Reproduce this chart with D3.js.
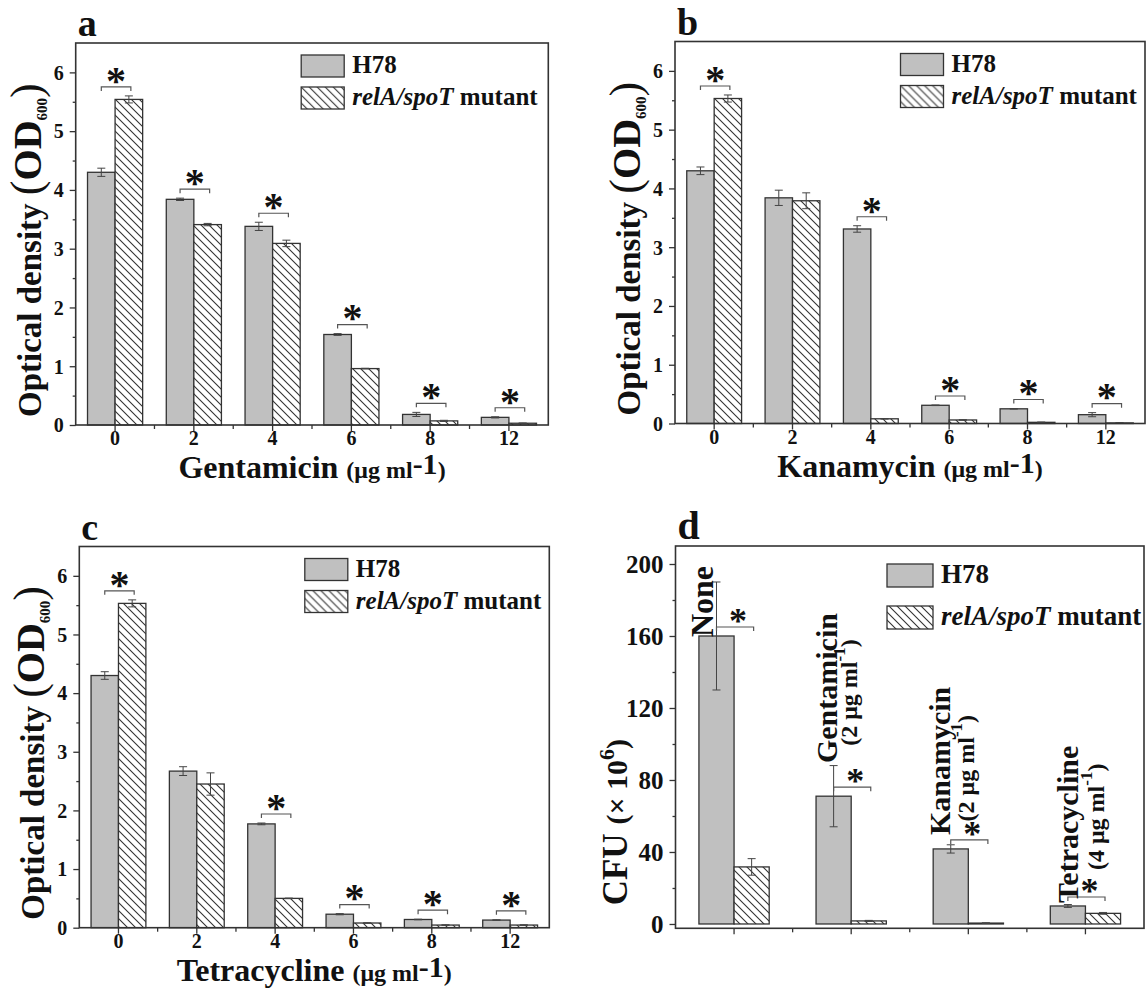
<!DOCTYPE html>
<html>
<head>
<meta charset="utf-8">
<script src="https://cdn.jsdelivr.net/npm/d3@7"></script>
<style>
  body { margin: 0; background: #fff; }
  svg text { font-family: "Liberation Serif", "Times New Roman", serif; font-weight: bold; fill: #111; }
</style>
</head>
<body>
<svg id="fig" width="1148" height="992"></svg>
<script>
// antibiotic concentrations (ug/ml) on the x axis of panels a-c
var concLabels = ["0", "2", "4", "6", "8", "12"];
var seriesNames = ["H78", "relA/spoT mutant"];

// a - gentamicin, OD600
var gentH78 = [4.30, 3.84, 3.38, 1.54, 0.18, 0.13];
var gentH78Err = [0.07, 0.02, 0.07, 0.015, 0.035, 0.01];
var gentMut = [5.54, 3.41, 3.09, 0.96, 0.07, 0.03];
var gentMutErr = [0.06, 0.02, 0.055, 0.005, 0.01, 0.005];
var gentSig = [1, 1, 1, 1, 1, 1];

// b - kanamycin, OD600
var kanH78 = [4.30, 3.84, 3.31, 0.31, 0.25, 0.15];
var kanH78Err = [0.065, 0.13, 0.055, 0.005, 0.005, 0.035];
var kanMut = [5.53, 3.79, 0.08, 0.06, 0.02, 0.01];
var kanMutErr = [0.06, 0.135, 0.005, 0.005, 0.005, 0.003];
var kanSig = [1, 0, 1, 1, 1, 1];

// c - tetracycline, OD600
var tetH78 = [4.30, 2.67, 1.77, 0.23, 0.14, 0.13];
var tetH78Err = [0.065, 0.075, 0.015, 0.01, 0.005, 0.005];
var tetMut = [5.53, 2.45, 0.50, 0.08, 0.045, 0.045];
var tetMutErr = [0.06, 0.19, 0.005, 0.005, 0.005, 0.005];
var tetSig = [1, 0, 1, 1, 1, 1];

// d - CFU (x 10^6) after treatment
var treatments = ["None", "Gentamicin", "Kanamycin", "Tetracycline"];
var treatmentDose = [null, 2, 2, 4];
var cfuH78 = [160, 71, 41.7, 10];
var cfuH78Err = [30, 17, 2.3, 0.8];
var cfuMut = [31.7, 1.7, 0.5, 5.9];
var cfuMutErr = [4.6, 0.3, 0.2, 0.5];
var cfuSig = [1, 1, 1, 1];

// axis ticks
var odTicks = [0, 1, 2, 3, 4, 5, 6];
var odMinor = [0.5, 1.5, 2.5, 3.5, 4.5, 5.5];
var cfuTicks = [0, 40, 80, 120, 160, 200];
var cfuMinor = [20, 60, 100, 140, 180];

var svg = d3.select("#fig");
svg.append("rect").attr("width", 1148).attr("height", 992).attr("fill", "#fff");

// diagonal hatch for the mutant bars
var pat = svg.append("defs").append("pattern")
  .attr("id", "hatch")
  .attr("patternUnits", "userSpaceOnUse")
  .attr("width", 8).attr("height", 8);
pat.append("rect").attr("width", 8).attr("height", 8).attr("fill", "#fff");
pat.append("path")
  .attr("d", "M-2,-2L10,10M-2,6L2,10M6,-2L10,2")
  .attr("stroke", "#333").attr("stroke-width", 1.1);

var GRAY = "#c0c0c0";
var LINE = "#333";

function drawPanel(p) {
  var g = svg.append("g");
  var x = d3.scaleBand().domain(p.cats).range([p.left, p.right]);
  var bw = x.bandwidth() * p.groupFrac / 2;
  var y = d3.scaleLinear().domain(p.yDomain).range([p.bottom, p.top]);

  var rows = p.cats.map(function (c, i) {
    return { cat: c, i: i, h: p.h78[i], he: p.h78Err[i], m: p.mut[i], me: p.mutErr[i], sig: p.sig[i] };
  });
  var cx = function (d) { return x(d.cat) + x.bandwidth() / 2; };

  // bars
  g.selectAll(".bar-h").data(rows).join("rect")
    .attr("class", "bar-h")
    .attr("x", function (d) { return cx(d) - bw; })
    .attr("width", bw)
    .attr("y", function (d) { return y(d.h); })
    .attr("height", function (d) { return y(0) - y(d.h); })
    .attr("fill", GRAY).attr("stroke", LINE).attr("stroke-width", 1.3);

  g.selectAll(".bar-m").data(rows).join("rect")
    .attr("class", "bar-m")
    .attr("x", function (d) { return cx(d); })
    .attr("width", bw)
    .attr("y", function (d) { return y(d.m); })
    .attr("height", function (d) { return y(0) - y(d.m); })
    .attr("fill", "url(#hatch)").attr("stroke", LINE).attr("stroke-width", 1.3);

  // error bars
  var errs = [];
  rows.forEach(function (d) {
    errs.push({ x: cx(d) - bw / 2, v: d.h, e: d.he });
    errs.push({ x: cx(d) + bw / 2, v: d.m, e: d.me });
  });
  var eg = g.selectAll(".err").data(errs).join("g").attr("class", "err")
    .attr("stroke", "#444").attr("stroke-width", 1);
  eg.append("line")
    .attr("x1", function (d) { return d.x; }).attr("x2", function (d) { return d.x; })
    .attr("y1", function (d) { return y(d.v - d.e); })
    .attr("y2", function (d) { return y(d.v + d.e); });
  [1, -1].forEach(function (s) {
    eg.append("line")
      .attr("x1", function (d) { return d.x - 4; }).attr("x2", function (d) { return d.x + 4; })
      .attr("y1", function (d) { return y(d.v + s * d.e); })
      .attr("y2", function (d) { return y(d.v + s * d.e); });
  });

  // significance brackets
  var sigRows = rows.filter(function (d) { return d.sig; });
  var bracketY = function (d) {
    var top = p.sigOnBar ? d.h : Math.max(d.h + d.he, d.m + d.me);
    return y(top) - 9;
  };
  g.selectAll(".sig").data(sigRows).join("path")
    .attr("class", "sig")
    .attr("d", function (d) {
      var x1 = cx(d) - bw / 2, x2 = cx(d) + bw / 2 + 2, yy = bracketY(d);
      return "M" + x1 + "," + (yy + 4) + "V" + yy + "H" + x2 + "V" + (yy + 4);
    })
    .attr("fill", "none").attr("stroke", "#555").attr("stroke-width", 1.2);
  g.selectAll(".star").data(sigRows).join("text")
    .attr("class", "star")
    .attr("x", function (d) { return cx(d) + 1 + (p.starShift || 0); })
    .attr("y", function (d) { return bracketY(d) + 0.27 * p.starFont - 4; })
    .attr("text-anchor", "middle")
    .style("font-size", p.starFont + "px")
    .text("*");

  // y axis
  var ya = g.append("g").attr("transform", "translate(" + p.left + ",0)").attr("color", LINE)
    .call(d3.axisLeft(y).tickValues(p.yTicks).tickSize(6).tickPadding(6).tickFormat(d3.format("d")));
  ya.select(".domain").remove();
  ya.selectAll("line").attr("stroke-width", 1.3);
  ya.selectAll("text").style("font-size", p.tickFont + "px").attr("dy", "0.34em");
  var ym = g.append("g").attr("transform", "translate(" + p.left + ",0)").attr("color", LINE)
    .call(d3.axisLeft(y).tickValues(p.yMinor).tickSize(3).tickFormat(""));
  ym.select(".domain").remove();
  ym.selectAll("line").attr("stroke-width", 1.3);

  // x axis: ticks under groups, short ticks between groups
  var xa = g.append("g").attr("transform", "translate(0," + p.bottom + ")").attr("color", LINE)
    .call(d3.axisBottom(x).tickSize(6).tickPadding(0).tickFormat(p.showXLabels ? null : ""));
  xa.select(".domain").remove();
  xa.selectAll("line").attr("stroke-width", 1.3);
  xa.selectAll("text").style("font-size", p.tickFont + "px");
  g.append("g").selectAll("line").data(p.cats.slice(1)).join("line")
    .attr("x1", function (c) { return x(c); }).attr("x2", function (c) { return x(c); })
    .attr("y1", p.bottom).attr("y2", p.bottom + 4)
    .attr("stroke", LINE).attr("stroke-width", 1.3);

  // frame
  g.append("rect")
    .attr("x", p.left).attr("y", p.top)
    .attr("width", p.right - p.left).attr("height", p.bottom - p.top)
    .attr("fill", "none").attr("stroke", LINE).attr("stroke-width", 1.6);

  // legend
  var L = p.legend;
  var lg = g.append("g").attr("transform", "translate(" + (p.left + L.dx) + "," + (p.top + L.dy) + ")");
  lg.append("rect").attr("width", L.w).attr("height", L.h)
    .attr("fill", GRAY).attr("stroke", LINE).attr("stroke-width", 1.3);
  lg.append("rect").attr("y", L.gap).attr("width", L.w).attr("height", L.h)
    .attr("fill", "url(#hatch)").attr("stroke", LINE).attr("stroke-width", 1.3);
  lg.append("text").attr("x", L.w + 8).attr("y", L.h - 4)
    .style("font-size", L.font + "px").text(seriesNames[0]);
  var lt = lg.append("text").attr("x", L.w + 8).attr("y", L.gap + L.h - 4)
    .style("font-size", L.font + "px");
  var parts = seriesNames[1].split(" ");
  lt.append("tspan").style("font-style", "italic").text(parts[0]);
  lt.append("tspan").text(" " + parts[1]);

  // panel letter
  g.append("text").attr("x", p.left + 2).attr("y", p.top - 7)
    .style("font-size", p.letterFont + "px").text(p.letter);

  return { g: g, x: x, y: y, bw: bw };
}

function odYTitle(g, p) {
  var t = g.append("text")
    .attr("transform", "translate(" + (p.left - 35) + "," + (p.bottom - 8) + ") rotate(-90)");
  t.append("tspan").style("font-size", "33px").text("Optical density ");
  t.append("tspan").style("font-size", "44px").style("font-weight", "normal").text("(");
  t.append("tspan").style("font-size", "40px").text("OD");
  t.append("tspan").style("font-size", "15px").attr("dy", 6).text("600");
  t.append("tspan").style("font-size", "44px").style("font-weight", "normal").attr("dy", -6).text(")");
}

function concXTitle(g, p, name) {
  var t = g.append("text")
    .attr("x", (p.left + p.right) / 2).attr("y", p.bottom + 53)
    .attr("text-anchor", "middle");
  t.append("tspan").style("font-size", "32px").text(name + " ");
  t.append("tspan").style("font-size", "24px").text("(\u03bcg ml");
  t.append("tspan").style("font-size", "30px").attr("dy", -4).text("-1");
  t.append("tspan").style("font-size", "24px").attr("dy", 4).text(")");
}

var odPanels = [
  { letter: "a", name: "Gentamicin", left: 75.7, right: 548.3, top: 43, bottom: 425,
    h78: gentH78, h78Err: gentH78Err, mut: gentMut, mutErr: gentMutErr, sig: gentSig },
  { letter: "b", name: "Kanamycin", left: 675, right: 1145, top: 41.5, bottom: 423.5,
    h78: kanH78, h78Err: kanH78Err, mut: kanMut, mutErr: kanMutErr, sig: kanSig },
  { letter: "c", name: "Tetracycline", left: 79.3, right: 549.3, top: 546.5, bottom: 927.7,
    h78: tetH78, h78Err: tetH78Err, mut: tetMut, mutErr: tetMutErr, sig: tetSig }
];

odPanels.forEach(function (p) {
  p.cats = concLabels;
  p.groupFrac = 0.7;
  p.yDomain = [0, 6.5];
  p.yTicks = odTicks;
  p.yMinor = odMinor;
  p.tickFont = 20;
  p.starFont = 40;
  p.showXLabels = true;
  p.letterFont = 38;
  p.legend = { dx: 225.5, dy: 12, w: 43, h: 22, gap: 32, font: 25 };
  var r = drawPanel(p);
  odYTitle(r.g, p);
  concXTitle(r.g, p, p.name);
});

// panel d
var pd = {
  letter: "d", left: 675.5, right: 1144, top: 546, bottom: 928.3,
  cats: treatments, groupFrac: 0.6, yDomain: [-2.4, 210],
  h78: cfuH78, h78Err: cfuH78Err, mut: cfuMut, mutErr: cfuMutErr, sig: cfuSig,
  sigOnBar: true, starShift: 3, starFont: 36, yTicks: cfuTicks, yMinor: cfuMinor, tickFont: 25,
  showXLabels: false, letterFont: 40,
  legend: { dx: 211.5, dy: 18, w: 46, h: 23, gap: 42, font: 27 }
};
var rd = drawPanel(pd);

var ct = rd.g.append("text")
  .attr("transform", "translate(" + (pd.left - 48.5) + "," + (pd.bottom - 23) + ") rotate(-90)");
ct.append("tspan").style("font-size", "35px").text("CFU ");
ct.append("tspan").style("font-size", "30px").text("(\u00d7 10");
ct.append("tspan").style("font-size", "22px").attr("dy", -13).text("6");
ct.append("tspan").style("font-size", "30px").attr("dy", 13).text(")");

// rotated treatment names above the bars (offset from group centre, height in CFU units)
var nameAt = [{ dx: -21, v: 159.4 }, { dx: -14, v: 89.4 }, { dx: -18, v: 49.4 }, { dx: -7, v: 11.7 }];
var doseAt = [null, { dx: 6, v: 99 }, { dx: 6, v: 57 }, { dx: 19, v: 30 }];
treatments.forEach(function (name, i) {
  var c = rd.x(name) + rd.x.bandwidth() / 2;
  rd.g.append("text")
    .attr("transform", "translate(" + (c + nameAt[i].dx) + "," + rd.y(nameAt[i].v) + ") rotate(-90)")
    .style("font-size", i === 0 ? "32px" : "30px")
    .text(name);
  if (treatmentDose[i] !== null) {
    var t = rd.g.append("text")
      .attr("transform", "translate(" + (c + doseAt[i].dx) + "," + rd.y(doseAt[i].v) + ") rotate(-90)")
      .style("font-size", "24px");
    t.append("tspan").text("(" + treatmentDose[i] + " \u03bcg ml");
    t.append("tspan").style("font-size", "17px").attr("dy", -12).text("-1");
    t.append("tspan").attr("dy", 12).text(")");
  }
});
</script>
</body>
</html>
